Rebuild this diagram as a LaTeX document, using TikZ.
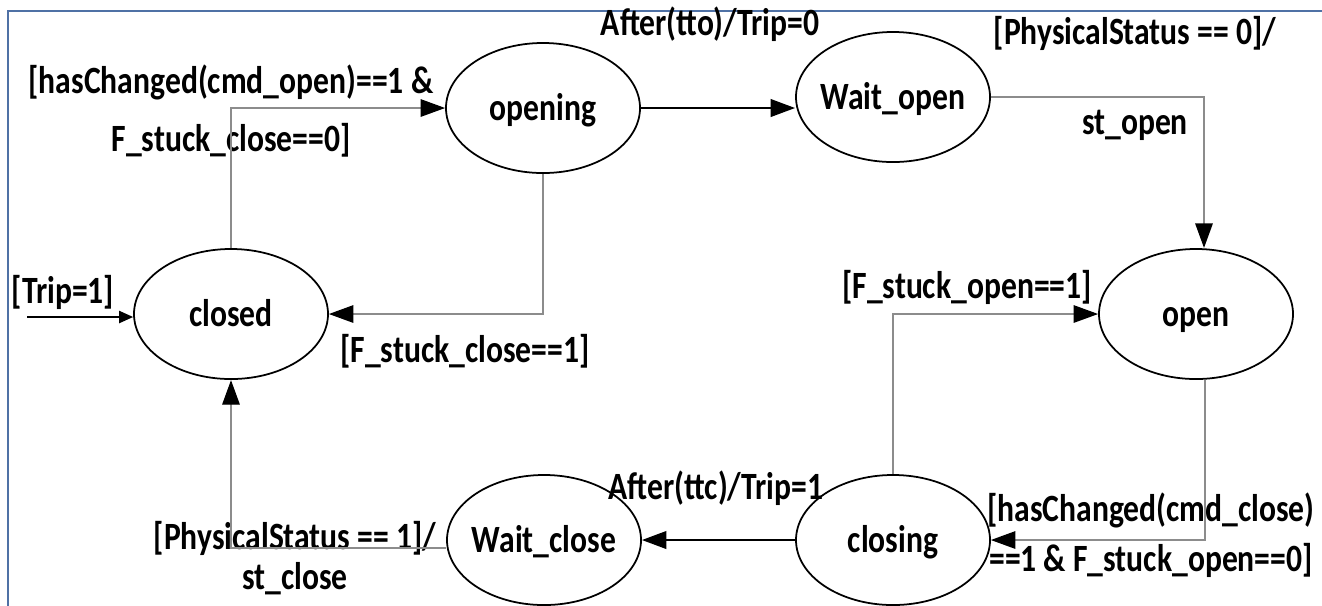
\documentclass[tikz,border=0pt]{standalone}
\usepackage{fontspec}
\setmainfont{Carlito}
\usepackage{tikz}
\usetikzlibrary{positioning,arrows.meta,shapes.geometric}
\definecolor{framebl}{RGB}{79,113,165}
\definecolor{wiregray}{RGB}{140,140,140}
\tikzset{
  stt/.style   = {draw, ellipse, line width=0.5pt, inner sep=0pt, inner xsep=-3mm,
                  minimum width=1.94cm, minimum height=1.066cm,
                  text height=6pt, text depth=0.4pt,
                  yscale=1.22, transform shape,
                  font=\fontsize{9}{11}\selectfont\bfseries},
  ar/.style    = {draw=wiregray, line width=0.4pt,
                  -{Triangle[length=7pt,width=5pt,color=black]}},
  arb/.style   = {line width=0.7pt, -{Triangle[length=7pt,width=5pt]}},
  ini/.style   = {line width=0.4pt, -{Triangle[length=4pt,width=3.5pt]}},
  lbl/.style   = {font=\fontsize{9}{11}\selectfont\bfseries, inner sep=0pt,
                  align=center, yscale=1.22, transform shape},
}
\begin{document}
\begin{tikzpicture}
\useasboundingbox (0,0) rectangle (13.22,-6.05);
\draw[framebl, line width=0.6pt] (0.08,-6.1) |- (13.3,-0.11);

% states
\node[stt] (closed)  at (2.31,-3.14) {closed};
\node[stt] (opening) at (5.43,-1.08) {opening};
\node[stt] (wopen)   at (8.93,-0.97) {Wait\_open};
\node[stt] (open)    at (11.96,-3.14) {open};
\node[stt] (closing) at (8.93,-5.40) {closing};
\node[stt] (wclose)  at (5.44,-5.40) {Wait\_close};
\coordinate (init) at (0.27,-3.17);

% guards and actions
\node[lbl] (ltrip)   at (0.63,-2.92) {[Trip=1]};
\node[lbl] (lopen)   at (2.31,-1.11)
     {[hasChanged(cmd\_open)==1 \&\\[2.5pt]F\_stuck\_close==0]};
\node[lbl] (ltto)    at (7.10,-0.24) {After(tto)/Trip=0};
\node[lbl] (lphys0)  at (11.35,-0.78)
     {[PhysicalStatus == 0]/\\[10pt]st\_open};
\node[lbl] (lstuckc) at (4.65,-3.51) {[F\_stuck\_close==1]};
\node[lbl] (lstucko) at (9.67,-2.87) {[F\_stuck\_open==1]};
\node[lbl] (lttc)    at (7.16,-4.88) {After(ttc)/Trip=1};
\node[lbl] (lphys1)  at (2.95,-5.58)
     {[PhysicalStatus == 1]/\\[-1.7pt]st\_close};
\node[lbl] (lclose)  at (11.51,-5.35)
     {[hasChanged(cmd\_close)\\[0.6pt]==1 \& F\_stuck\_open==0]};

% transitions
\draw[ini] (init) -- (init -| closed.west);
\draw[ar] (closed.north) |- (opening.west);
\draw[ar] (opening.south) |- (closed.east);
\draw[arb] (opening.east) -- (opening.east -| wopen.west);
\draw[ar] (wopen.east) -| ([xshift=0.08cm]open.north);
\draw[ar] ([xshift=0.09cm]open.south) |- (closing.east);
\draw[ar] (closing.north) |- (open.west);
\draw[arb] (closing.west) -- (wclose.east);
\draw[ar] ([yshift=-0.08cm]wclose.west) -| (closed.south);
\end{tikzpicture}
\end{document}
